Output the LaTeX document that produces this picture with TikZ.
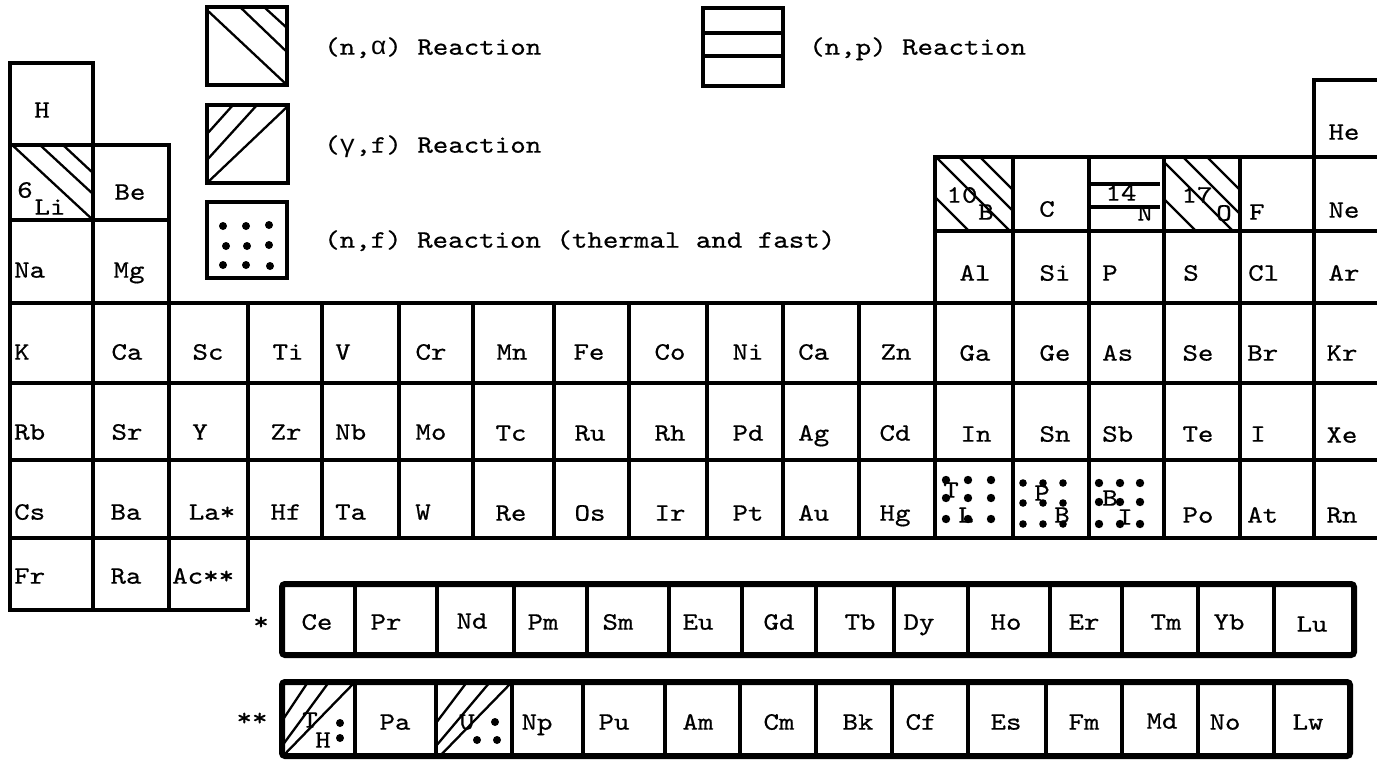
\documentclass[tikz,border=0pt]{standalone}
\usepackage{fontspec}
\setmonofont{lmmono10-regular.otf}[FakeStretch=1.18,FakeBold=0.6]
\newfontfamily\grk{Liberation Mono}[FakeStretch=1.05]
\newcommand\elfont{\ttfamily\fontsize{25}{25}\selectfont}
\begin{document}
\begin{tikzpicture}[x=1pt,y=-1pt,
  cell/.style={draw=black,line width=4.5pt,line join=miter},
  outer/.style={draw=black,line width=6pt,rounded corners=3pt},
  hatch/.style={draw=black,line width=2.3pt},
  lbl/.style={font=\elfont,inner sep=0pt,text height=15.3pt,text depth=0pt},
  lw/.style={lbl,anchor=west}]
\useasboundingbox (0,0) rectangle (1377,764);

% ---------- legend ----------
\begin{scope}
\clip (207,7) rectangle (287,85);
\draw[hatch] (207,10) -- (287,85);
\draw[hatch] (240,7) -- (287,52);
\draw[hatch] (264,7) -- (287,28);
\end{scope}
\draw[cell] (207,7) rectangle (287,85);
\node[lw] (lna) at (324,47) {(n,{\grk α}) Reaction};

\begin{scope}
\clip (207,105) rectangle (288,183);
\draw[hatch] (207,183) -- (288,106);
\draw[hatch] (207,160) -- (257,105);
\draw[hatch] (207,134) -- (233,105);
\end{scope}
\draw[cell] (207,105) rectangle (288,183);
\node[lw] (lgf) at (324,145) {({\grk γ},f) Reaction};

\draw[cell,line width=4pt] (207,202) rectangle (287,278);
\foreach \px/\py in {223/226,246/226,269/225,226/246,247/246,269/245,223/265,246/265,270/266}
  \fill (\px,\py) circle (4pt);
\node[lw] (lnf) at (324,240) {(n,f) Reaction (thermal and fast)};

\draw[cell] (703,8) rectangle (783,86);
\draw[cell,line width=3.2pt] (703,33) -- (783,33);
\draw[cell,line width=3.2pt] (703,56) -- (783,56);
\node[lw] (lnp) at (809,47) {(n,p) Reaction};

% ---------- main table: top rows ----------
\draw[cell] (10,63) rectangle (93,145);
\node[lbl] (H) at (42,110) {H};

\begin{scope}
\clip (10,145) rectangle (93,220);
\draw[hatch] (10,143) -- (93,220);
\draw[hatch] (40,145) -- (93,194);
\draw[hatch] (63,145) -- (93,173);
\end{scope}
\draw[cell] (10,145) rectangle (93,220);
\draw[cell] (93,145) rectangle (169,220);
\node[lbl] (Li6) at (25,190) {6};
\node[lbl] (Li) at (50,207) {Li};
\node[lbl] (Be) at (130,192) {Be};

\draw[cell] (10,220) rectangle (93,303);
\draw[cell] (93,220) rectangle (169,303);
\node[lw] (Na) at (14,270) {Na};
\node[lbl] (Mg) at (129,270) {Mg};

\draw[cell] (1314,80) rectangle (1392,157);
\node[lbl] (He) at (1344,132) {He};

% B row
\begin{scope}
\clip (935,157) rectangle (1013,231);
\foreach \c in {779,802,823,738}
  \draw[hatch] (880,880-\c) -- (1060,1060-\c);
\end{scope}
\begin{scope}
\clip (1164,157) rectangle (1240,231);
\foreach \c in {1002,1026,1050,965}
  \draw[hatch] (1110,1110-\c) -- (1290,1290-\c);
\end{scope}
\draw[hatch,line width=3.2pt] (1089,184) -- (1160,184);
\draw[hatch,line width=3.2pt] (1089,207) -- (1160,207);
\foreach \a/\b in {935/1013,1013/1089,1089/1164,1164/1240,1240/1314,1314/1392}
  \draw[cell] (\a,157) rectangle (\b,231);
\node[lbl] (B10) at (962,195) {10};
\node[lbl] (B) at (986,212) {B};
\node[lbl] (C) at (1047,209) {C};
\node[lbl] (N14) at (1121,193) {14};
\node[lbl] (N) at (1145,213) {N};
\node[lbl] (O17) at (1197,195) {17};
\node[lbl] (O) at (1224,213) {O};
\node[lw] (F) at (1249,212) {F};
\node[lbl] (Ne) at (1344,210) {Ne};

% Al row
\foreach \a/\b in {935/1013,1013/1089,1089/1164,1164/1240,1240/1314,1314/1392}
  \draw[cell] (\a,231) rectangle (\b,303);
\node[lbl] (Al) at (975,273) {Al};
\node[lbl] (Si) at (1055,273) {Si};
\node[lw] (P) at (1102,273) {P};
\node[lbl] (S) at (1191,273) {S};
\node[lw] (Cl) at (1248,273) {Cl};
\node[lbl] (Ar) at (1344,273) {Ar};

% ---------- rows 4 to 6 ----------
\foreach \a/\b in {10/93,93/169,169/248,248/322,322/399,399/473,473/554,554/629,629/707,707/783,783/859,859/935,935/1013,1013/1089,1089/1164,1164/1240,1240/1314,1314/1392}{
  \draw[cell] (\a,303) rectangle (\b,383);
  \draw[cell] (\a,383) rectangle (\b,460);
  \draw[cell] (\a,460) rectangle (\b,538);
}
\foreach \a/\b in {10/93,93/169,169/248}
  \draw[cell] (\a,538) rectangle (\b,610);

% row K
\node[lw] (K) at (14,352) {K};
\node[lbl] (Ca) at (127,352) {Ca};
\node[lbl] (Sc) at (208,352) {Sc};
\node[lbl] (Ti) at (288,352) {Ti};
\node[lw] (V) at (335,352) {V};
\node[lbl] (Cr) at (431,352) {Cr};
\node[lbl] (Mn) at (512,352) {Mn};
\node[lbl] (Fe) at (589,352) {Fe};
\node[lbl] (Co) at (670,352) {Co};
\node[lbl] (Ni) at (748,352) {Ni};
\node[lw] (Cu) at (798,352) {Ca};
\node[lbl] (Zn) at (896,352) {Zn};
\node[lbl] (Ga) at (975,353) {Ga};
\node[lbl] (Ge) at (1055,353) {Ge};
\node[lw] (As) at (1102,353) {As};
\node[lbl] (Se) at (1198,353) {Se};
\node[lw] (Br) at (1247,353) {Br};
\node[lbl] (Kr) at (1342,353) {Kr};

% row Rb
\node[lw] (Rb) at (14,432) {Rb};
\node[lbl] (Sr) at (127,432) {Sr};
\node[lbl] (Y) at (200,432) {Y};
\node[lbl] (Zr) at (286,432) {Zr};
\node[lw] (Nb) at (335,432) {Nb};
\node[lbl] (Mo) at (431,432) {Mo};
\node[lbl] (Tc) at (511,433) {Tc};
\node[lbl] (Ru) at (590,433) {Ru};
\node[lbl] (Rh) at (670,433) {Rh};
\node[lbl] (Pd) at (748,433) {Pd};
\node[lw] (Ag) at (798,433) {Ag};
\node[lbl] (Cd) at (895,433) {Cd};
\node[lbl] (In) at (976,434) {In};
\node[lbl] (Sn) at (1055,434) {Sn};
\node[lw] (Sb) at (1102,434) {Sb};
\node[lbl] (Te) at (1198,434) {Te};
\node[lw] (I) at (1250,434) {I};
\node[lbl] (Xe) at (1342,435) {Xe};

% row Cs
\node[lw] (Cs) at (14,512) {Cs};
\node[lbl] (Ba) at (126,512) {Ba};
\node[lbl] (La) at (212,512) {La*};
\node[lbl] (Hf) at (286,512) {Hf};
\node[lw] (Ta) at (335,512) {Ta};
\node[lbl] (W) at (423,512) {W};
\node[lbl] (Re) at (511,513) {Re};
\node[lbl] (Os) at (590,513) {Os};
\node[lbl] (Ir) at (670,513) {Ir};
\node[lbl] (Pt) at (748,513) {Pt};
\node[lw] (Au) at (798,513) {Au};
\node[lbl] (Hg) at (895,513) {Hg};
\node[lbl] (Po) at (1198,515) {Po};
\node[lw] (At) at (1247,515) {At};
\node[lbl] (Rn) at (1342,515) {Rn};

% Tl, Pb, Bi with dots
\foreach \px in {946,968,991} \foreach \py in {480,498,519} \fill (\px,\py) circle (4.2pt);
\node[lbl] (Tl1) at (951,490) {T};
\node[lbl] (Tl2) at (966,515) {L};
\foreach \px in {1023,1043,1063} \foreach \py in {483,503,524} \fill (\px,\py) circle (3.8pt);
\node[lbl] (Pb1) at (1042,493) {P};
\node[lbl] (Pb2) at (1062,515) {B};
\foreach \px in {1099,1120,1140} \foreach \py in {483,502,524} \fill (\px,\py) circle (4.2pt);
\node[lbl] (Bi1) at (1110,498) {B};
\node[lbl] (Bi2) at (1125,517) {I};

% row Fr
\node[lw] (Fr) at (14,576) {Fr};
\node[lbl] (Ra) at (126,576) {Ra};
\node[lw] (Ac) at (172,576) {Ac**};

% ---------- lanthanides ----------
\foreach \xa in {355,437,514,587,669,742,816,894,968,1050,1122,1198,1274}
  \draw[cell] (\xa,584) -- (\xa,655);
\draw[outer] (282,584) rectangle (1354,655);
\node[lbl] (st1) at (261,622) {*};
\node[lbl] (Ce) at (317,622) {Ce};
\node[lbl] (Pr) at (386,622) {Pr};
\node[lbl] (Nd) at (472,621) {Nd};
\node[lbl] (Pm) at (543,622) {Pm};
\node[lbl] (Sm) at (618,622) {Sm};
\node[lbl] (Eu) at (698,622) {Eu};
\node[lbl] (Gd) at (779,622) {Gd};
\node[lbl] (Tb) at (860,622) {Tb};
\node[lbl] (Dy) at (919,622) {Dy};
\node[lbl] (Ho) at (1006,622) {Ho};
\node[lbl] (Er) at (1084,622) {Er};
\node[lbl] (Tm) at (1166,622) {Tm};
\node[lbl] (Yb) at (1229,622) {Yb};
\node[lbl] (Lu) at (1312,624) {Lu};

% ---------- actinides ----------
\begin{scope}
\clip (282,682) rectangle (355,756);
\draw[hatch] (282,757) -- (354,683);
\draw[hatch] (282,746) -- (329,682);
\draw[hatch] (282,721) -- (308,682);
\end{scope}
\begin{scope}
\clip (436,682) rectangle (512,756);
\draw[hatch] (436,760) -- (511,683);
\draw[hatch] (436,746) -- (490,682);
\draw[hatch] (436,723) -- (467,682);
\end{scope}
\foreach \xa in {355,436,512,583,665,740,816,892,968,1046,1122,1198,1274}
  \draw[cell] (\xa,682) -- (\xa,756);
\draw[outer] (282,682) rectangle (1350,756);
\node[lbl] (st2) at (252,718) {**};
\node[lbl] (Th1) at (310,720) {T};
\node[lbl] (Th2) at (323,740) {H};
\fill (340,723) circle (4pt);
\fill (340,738) circle (4pt);
\node[lbl] (Pa) at (395,722) {Pa};
\node[lbl] (U) at (467,722) {U};
\fill (495,722) circle (4pt);
\fill (477,740) circle (4pt);
\fill (497,740) circle (4pt);
\node[lbl] (Np) at (537,722) {Np};
\node[lbl] (Pu) at (614,722) {Pu};
\node[lbl] (Am) at (698,722) {Am};
\node[lbl] (Cm) at (779,722) {Cm};
\node[lbl] (Bk) at (858,722) {Bk};
\node[lbl] (Cf) at (921,722) {Cf};
\node[lbl] (Es) at (1006,722) {Es};
\node[lbl] (Fm) at (1084,722) {Fm};
\node[lbl] (Md) at (1162,721) {Md};
\node[lbl] (No) at (1225,722) {No};
\node[lbl] (Lw) at (1308,722) {Lw};
\end{tikzpicture}
\end{document}
